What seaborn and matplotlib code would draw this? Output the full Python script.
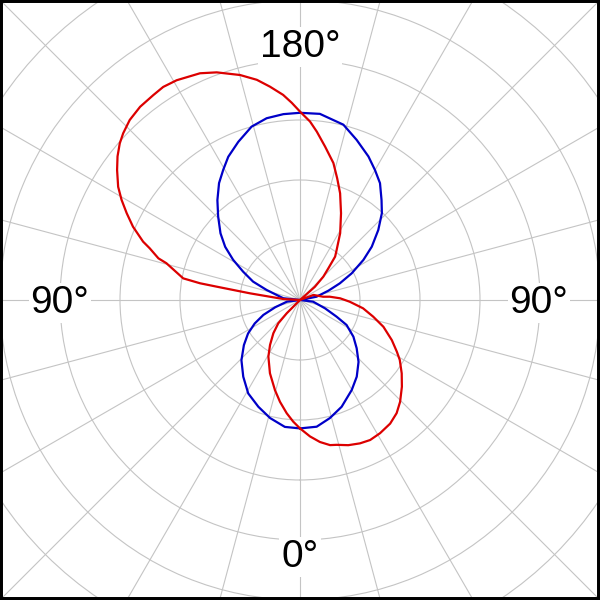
import numpy as np
import pandas as pd
import matplotlib
matplotlib.use("Agg")
import matplotlib.pyplot as plt
from matplotlib.patches import Rectangle
import seaborn as sns

# ---- data (angle in degrees, 0 = bottom, 90 = right, 180 = top, 270 = left)
blue_angle = [0, 7.5, 14.2, 21.3, 29.9, 36.5, 43.4, 49.6, 55.5, 61.8, 65.5, 71.6, 82.7, 90,
              101.2, 108.2, 112.7, 117.3, 122.3, 126.6, 131.8, 136.7, 140.8, 145.6, 150, 154.5,
              160.5, 166.1, 173.9, 180, 185.1, 190.4, 195.6, 201.3, 206.6, 210.5, 214.7, 219.6,
              224.4, 230, 234.6, 239, 243.5, 248.6, 253.3, 264, 270,
              277.3, 286.3, 292.2, 297.4, 302.8, 308.8, 315.8, 323.5, 331, 338.7, 345.8, 353.2, 360]
blue_r = [21.4, 21.3, 20.3, 19.1, 17.3, 15.9, 14.2, 12.4, 10.8, 8.8, 6.7, 4.4, 2.2, 0.0,
          2.8, 5.0, 7.2, 9.7, 12.5, 14.9, 17.5, 19.9, 21.5, 23.6, 25.0, 26.5,
          28.3, 30.1, 31.2, 31.2, 31.1, 30.8, 30.0, 28.3, 26.7, 25.2, 23.7, 21.6,
          19.5, 17.3, 15.3, 13.0, 10.6, 8.4, 5.8, 2.8, 0.0,
          2.2, 4.3, 6.6, 8.5, 10.3, 12.0, 14.0, 15.9, 17.8, 19.1, 20.3, 21.3, 21.4]

red_angle = [0, 4.2, 8, 11.7, 14.2, 18.4, 22.7, 26.6, 31, 36.1, 40.5, 44.5, 49.6, 54.2, 59,
             61.9, 66.4, 72.2, 77.2, 82.5, 88, 92.4, 96.3, 98, 110.6, 118, 125,
             131.6, 135, 138.2, 141, 143.7, 149, 154.7, 159.4, 163, 166.3, 170.7, 174.3, 176.8,
             180, 182.4, 184.7, 188, 191.1, 194.9, 200.1, 203.8, 209.3, 212.7, 215.6, 219.6,
             223.4, 226.7, 229, 231.8, 234.6, 238.1, 240.7, 243.4, 246.3, 249.6, 251, 253.6,
             254.6, 259.5, 260.5, 260.9, 262.4, 266.6, 272, 312,
             315, 317, 321.3, 326.3, 330.8, 337.7, 344.5, 348.9, 353.3, 356.8, 360]
red_r = [21.4, 22.8, 23.9, 24.7, 24.9, 25.5, 25.9, 26.1, 25.9, 25.5, 24.8, 23.8, 22.3, 20.9, 19.4,
         18.3, 16.7, 14.6, 12.5, 10.6, 8.3, 6.7, 5.0, 3.9, 2.4, 0.0, 0.0,
         3.3, 5.5, 7.1, 9.3, 10.3, 13.0, 16.0, 19.0, 21.2, 23.5, 25.9, 28.2, 29.8,
         31.4, 32.9, 34.3, 35.9, 37.4, 38.8, 40.4, 41.3, 42.0, 42.2, 42.0, 41.8,
         41.3, 40.5, 39.8, 38.7, 37.4, 35.7, 34.1, 32.3, 30.4, 27.9, 26.5, 24.6,
         23.1, 19.8, 16.9, 14.1, 8.4, 2.8, 0.0, 0.0,
         3.1, 5.3, 7.1, 9.0, 10.8, 13.2, 15.6, 17.3, 19.0, 20.3, 21.4]

ring_values = [10, 20, 30, 40, 50, 60, 70]
spoke_angles = list(range(0, 360, 15))
angle_labels = ["180°", "0°", "90°", "90°"]

sns.set_style("white")
plt.rcParams["font.family"] = ["Liberation Sans", "DejaVu Sans"]

fig = plt.figure(figsize=(6, 6), dpi=100)
fig.patch.set_facecolor("white")
R_px = 450.0
ax = fig.add_axes([(300 - R_px) / 600, (300 - R_px) / 600, 2 * R_px / 600, 2 * R_px / 600],
                  projection="polar")
ax.set_theta_zero_location("S")
ax.set_theta_direction(1)
ax.set_rlim(0, 75)
ax.set_thetagrids(spoke_angles, labels=[""] * len(spoke_angles))
ax.set_rgrids(ring_values, labels=[""] * len(ring_values))
ax.grid(True, color="#c4c4c4", linewidth=0.8)
ax.spines["polar"].set_visible(False)
ax.set_facecolor("white")

df_blue = pd.DataFrame({"theta": np.deg2rad(blue_angle), "r": blue_r})
df_red = pd.DataFrame({"theta": np.deg2rad(red_angle), "r": red_r})
sns.lineplot(data=df_blue, x="theta", y="r", ax=ax, color="#0000C8", linewidth=1.6,
             sort=False, estimator=None, legend=False)
sns.lineplot(data=df_red, x="theta", y="r", ax=ax, color="#DC0000", linewidth=1.6,
             sort=False, estimator=None, legend=False)
ax.set_xlabel("")
ax.set_ylabel("")

box = dict(boxstyle="square,pad=0.05", fc="white", ec="none")
# label positions in figure pixels (x, baseline y from top)
label_pos = [(300, 57), (300, 567), (539, 313), (60, 313)]
for txt, (px, py) in zip(angle_labels, label_pos):
    fig.text(px / 600, 1 - py / 600, txt, ha="center", va="baseline", fontsize=28,
             color="black", bbox=box)

fig.add_artist(Rectangle((0, 0), 1, 1, transform=fig.transFigure, fill=False,
                         edgecolor="black", linewidth=4.3, clip_on=False))

fig.savefig("out.png", dpi=100)
